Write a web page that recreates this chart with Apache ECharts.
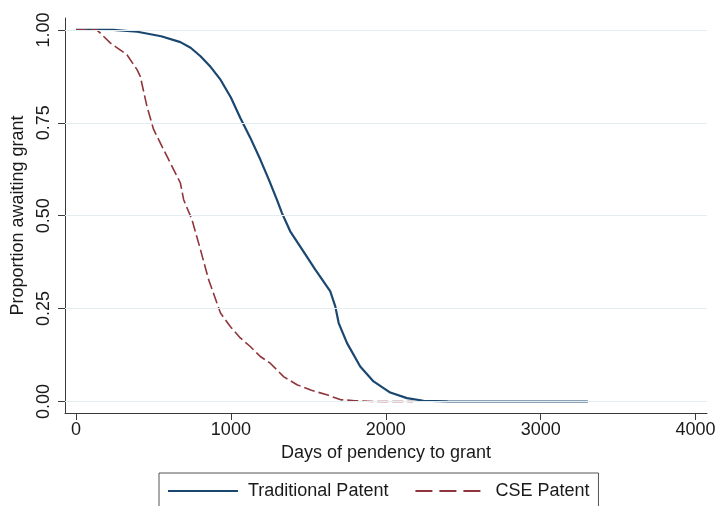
<!DOCTYPE html>
<html>
<head>
<meta charset="utf-8">
<script src="https://cdn.jsdelivr.net/npm/echarts@6/dist/echarts.min.js"></script>
<style>
  html, body { margin: 0; padding: 0; background: #fff; }
  #chart { width: 720px; height: 506px; }
</style>
</head>
<body>
<div id="chart"></div>
<script>
// Kaplan-Meier style curves: share of applications still awaiting grant
const seriesNames = ['Traditional Patent', 'CSE Patent'];

// [days, proportion awaiting grant]
const traditional = [
  [0, 1.0], [241, 1.0], [396, 0.995], [550, 0.983], [674, 0.967], [740, 0.952],
  [804, 0.929], [870, 0.9], [933, 0.866], [1000, 0.818], [1061, 0.763],
  [1125, 0.71], [1190, 0.651], [1245, 0.597], [1297, 0.543], [1330, 0.507],
  [1383, 0.458], [1448, 0.417], [1545, 0.355], [1642, 0.296], [1674, 0.256],
  [1696, 0.211], [1750, 0.157], [1835, 0.094], [1921, 0.054], [2029, 0.024],
  [2137, 0.009], [2244, 0.002], [2400, 0.0005], [3305, 0]
];

const cse = [
  [0, 1.0], [135, 1.0], [221, 0.965], [329, 0.933], [394, 0.893], [415, 0.875],
  [458, 0.794], [501, 0.732], [587, 0.66], [674, 0.588], [695, 0.543],
  [749, 0.489], [804, 0.408], [856, 0.328], [933, 0.238], [996, 0.202],
  [1061, 0.171], [1125, 0.148], [1190, 0.121], [1254, 0.103], [1340, 0.067],
  [1427, 0.045], [1520, 0.03], [1620, 0.018], [1706, 0.005], [1800, 0.002],
  [1921, 0], [2178, 0]
];

const xTicks = [0, 1000, 2000, 3000, 4000];
const yTicks = [0, 0.25, 0.5, 0.75, 1.0];

const axisColor = '#3a3a3a';
const textColor = '#1a1a1a';
const font = 'Liberation Sans, Arial, Helvetica, sans-serif';

const chart = echarts.init(document.getElementById('chart'), null, { renderer: 'canvas' });

chart.setOption({
  animation: false,
  backgroundColor: '#ffffff',
  textStyle: { fontFamily: font },
  grid: { left: 65, right: 13, top: 18, bottom: 93, containLabel: false },
  xAxis: {
    type: 'value',
    min: -71,
    max: 4074,
    name: 'Days of pendency to grant',
    nameLocation: 'middle',
    nameGap: 27,
    nameTextStyle: { fontSize: 18, color: textColor, fontFamily: font },
    axisLine: { show: true, onZero: false, lineStyle: { color: axisColor, width: 1 } },
    axisTick: { show: true, length: 7, customValues: xTicks, lineStyle: { color: axisColor } },
    axisLabel: {
      customValues: xTicks, fontSize: 18, color: textColor, margin: 8, fontFamily: font,
      formatter: v => String(Math.round(v))
    },
    splitLine: { show: false }
  },
  yAxis: {
    type: 'value',
    min: -0.031,
    max: 1.032,
    name: 'Proportion awaiting grant',
    nameLocation: 'middle',
    nameGap: 36,
    nameTextStyle: { fontSize: 18, color: textColor, fontFamily: font },
    axisLine: { show: true, onZero: false, lineStyle: { color: axisColor, width: 1 } },
    axisTick: { show: true, length: 7, customValues: yTicks, lineStyle: { color: axisColor } },
    axisLabel: {
      customValues: yTicks, fontSize: 18, color: textColor, margin: 12, rotate: 90,
      fontFamily: font, formatter: v => v.toFixed(2)
    },
    splitLine: { show: false }
  },
  legend: {
    data: [
      { name: seriesNames[0] },
      { name: seriesNames[1], lineStyle: { type: [17, 7] } }
    ],
    left: 159,
    top: 473,
    orient: 'horizontal',
    itemWidth: 70,
    itemHeight: 12,
    itemGap: 26,
    padding: [9, 9, 30, 8],
    borderColor: '#555555',
    borderWidth: 1,
    itemStyle: { color: 'rgba(0,0,0,0)', borderWidth: 0, opacity: 0 },
    textStyle: { fontSize: 18, color: textColor, fontFamily: font, padding: [0, 0, 0, 5] }
  },
  series: [
    {
      // horizontal reference lines at the y tick values
      name: 'grid',
      type: 'line',
      data: [],
      z: 1,
      silent: true,
      markLine: {
        silent: true,
        symbol: 'none',
        label: { show: false },
        lineStyle: { color: '#e4eef1', width: 1, type: 'solid' },
        data: yTicks.map(v => ({ yAxis: v }))
      }
    },
    {
      name: seriesNames[0],
      type: 'line',
      data: traditional,
      z: 3,
      showSymbol: false,
      symbol: 'none',
      lineStyle: { color: '#1a476f', width: 2.2 },
      itemStyle: { color: '#1a476f' }
    },
    {
      name: seriesNames[1],
      type: 'line',
      data: cse,
      z: 4,
      showSymbol: false,
      symbol: 'none',
      lineStyle: { color: '#90353b', width: 1.6, type: [11, 4] },
      itemStyle: { color: '#90353b' }
    }
  ]
});
</script>
</body>
</html>
